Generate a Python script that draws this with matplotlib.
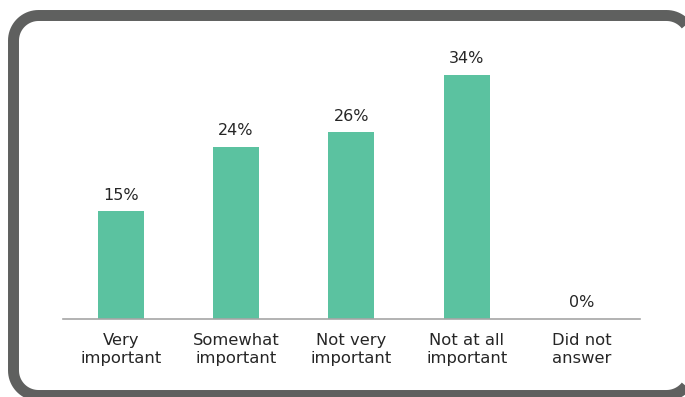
import numpy as np
import matplotlib.pyplot as plt
from matplotlib.patches import Polygon

# survey answers
categories = ['Very\nimportant', 'Somewhat\nimportant', 'Not very\nimportant',
              'Not at all\nimportant', 'Did not\nanswer']
shares = [15, 24, 26, 34, 0]

fig = plt.figure(figsize=(6.85, 3.97), dpi=100)
ax = fig.add_axes([0.092, 0.1965, 0.842, 0.723])

x = range(len(categories))
ax.bar(x, shares, width=0.4, color='#5bc2a0', zorder=2)
for i, v in zip(x, shares):
    ax.text(i, v + 1.2, f'{v}%', ha='center', va='bottom', fontsize=11.5, color='#262626')

ax.set_xlim(-0.5, len(categories) - 0.5)
ax.set_ylim(0, 40)
ax.set_xticks(list(x))
ax.set_xticklabels(categories, fontsize=11.8, color='#262626', linespacing=1.3)
ax.tick_params(axis='x', length=0, pad=10)
ax.set_yticks([])
for side in ['left', 'right', 'top']:
    ax.spines[side].set_visible(False)
ax.spines['bottom'].set_color('#a6a6a6')
ax.spines['bottom'].set_linewidth(1.2)


# rounded frame, built from plain line segments so clipping at the
# canvas edge doesn't bend the curves
def rounded_rect(x0, y0, x1, y1, r, n=20):
    pts = []
    corners = [(x1 - r, y1 - r, 0), (x0 + r, y1 - r, 90),
               (x0 + r, y0 + r, 180), (x1 - r, y0 + r, 270)]
    for cx, cy, a0 in corners:
        t = np.radians(np.linspace(a0, a0 + 90, n))
        pts.extend(zip(cx + r * np.cos(t), cy + r * np.sin(t)))
    return np.array(pts)


W, H = 685, 397
pts = rounded_rect(13.5, H - 395.5, 691.5, H - 15.5, 25)
frame = Polygon(pts / [W, H], closed=True, fill=False, transform=fig.transFigure,
                edgecolor='#5f605f', linewidth=7.9, joinstyle='round')
fig.patches.append(frame)

fig.savefig('out.png', dpi=100)
